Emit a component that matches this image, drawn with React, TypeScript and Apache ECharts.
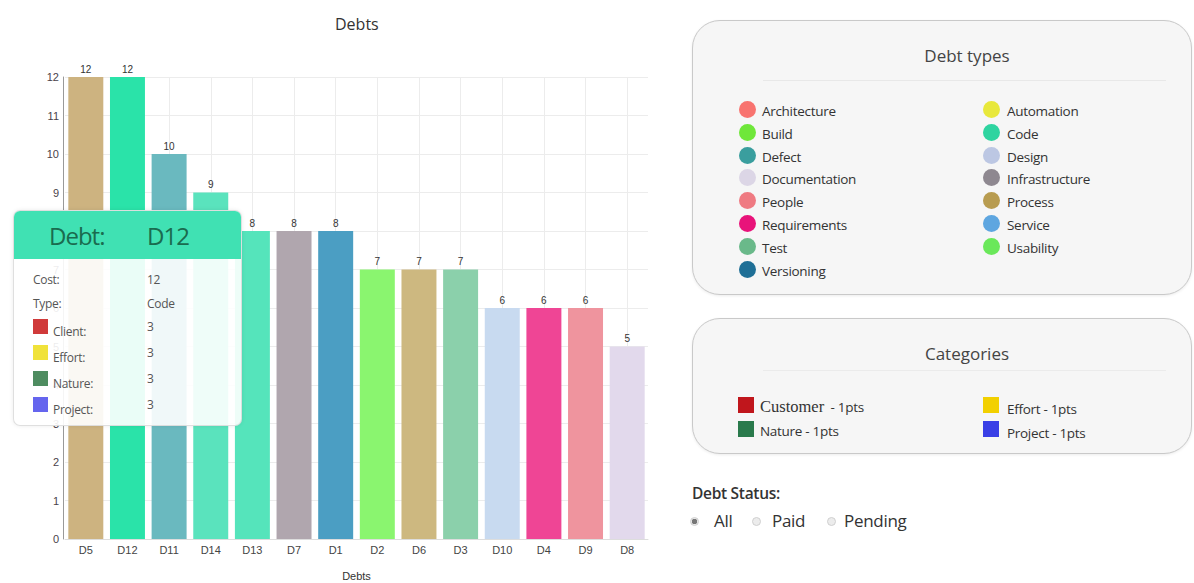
import React, { useEffect, useRef } from "react";
import * as echarts from "echarts";

// ---- data ----
const categories = ["D5", "D12", "D11", "D14", "D13", "D7", "D1", "D2", "D6", "D3", "D10", "D4", "D9", "D8"];
const costs = [12, 12, 10, 9, 8, 8, 8, 7, 7, 7, 6, 6, 6, 5];
const barColors = [
  "#cdb380", "#2ae3a9", "#6ab9bf", "#5ae3bd", "#55e4bb", "#b0a6ae", "#4b9ec3",
  "#8af56f", "#cdb880", "#8bd0ab", "#c8daf0", "#ef4595", "#ef949e", "#e2d9ec",
];

const debtTypesLeft = ["Architecture", "Build", "Defect", "Documentation", "People", "Requirements", "Test", "Versioning"];
const debtTypesLeftColors = ["#f8736f", "#6fe73a", "#3a9e9e", "#dcd6e6", "#ef7a82", "#e8137a", "#6ab98a", "#1f6f96"];
const debtTypesRight = ["Automation", "Code", "Design", "Infrastructure", "Process", "Service", "Usability"];
const debtTypesRightColors = ["#e8e83b", "#2ed4a0", "#bcc7e3", "#8e8890", "#b89c50", "#5ea6e0", "#6ae85a"];

const categoryNames = ["Customer", "Nature", "Effort", "Project"];
const categoryPoints = [1, 1, 1, 1];
const categoryColors = ["#c0161c", "#2a7a4c", "#f2d000", "#3a3fe6"];

const statusOptions = ["All", "Paid", "Pending"];
const statusSelected = "All";

const tipDebt = "D12";
const tipCost = 12;
const tipType = "Code";
const tipCatNames = ["Client", "Effort", "Nature", "Project"];
const tipCatValues = [3, 3, 3, 3];
const tipCatColors = ["#d03a3a", "#f0e23a", "#4e8c60", "#6565ee"];

function Chart() {
  const ref = useRef<HTMLDivElement>(null);
  useEffect(() => {
    if (!ref.current) return;
    const chart = echarts.init(ref.current, null, { renderer: "svg" });
    chart.setOption({
      animation: false,
      title: {
        text: "Debts",
        left: 330,
        top: 11,
        textStyle: { fontSize: 16, fontWeight: "normal", color: "#333", fontFamily: "Open Sans" },
      },
      grid: { left: 65, right: 22, top: 77, bottom: 44, outerBoundsMode: "none", containLabel: false },
      xAxis: {
        type: "category",
        data: categories,
        name: "Debts",
        nameLocation: "middle",
        nameGap: 31,
        nameTextStyle: { fontSize: 11, color: "#333", fontFamily: "Liberation Sans" },
        axisLine: { show: true, lineStyle: { color: "#ddd" } },
        axisTick: { show: false },
        axisLabel: { fontSize: 11, color: "#444", margin: 5, fontFamily: "Liberation Sans" },
        splitLine: { show: false },
      },
      yAxis: {
        type: "value",
        min: 0,
        max: 12,
        interval: 1,
        offset: 2,
        axisLine: { show: true, lineStyle: { color: "#999" } },
        axisTick: { show: false },
        axisLabel: { fontSize: 11, color: "#4a3f4a", margin: 4, fontFamily: "Liberation Sans" },
        splitLine: { show: true, lineStyle: { color: "#ececec" } },
      },
      series: [
        {
          type: "bar",
          data: costs.map((v, i) => ({ value: v, itemStyle: { color: barColors[i] } })),
          barCategoryGap: "16%",
          label: { show: true, position: "top", fontSize: 10, color: "#333", distance: 3, fontFamily: "Liberation Sans" },
          markLine: {
            z: 1,
            silent: true,
            symbol: "none",
            label: { show: false },
            lineStyle: { color: "#ececec", type: "solid", width: 1 },
            data: categories.map((c) => ({ xAxis: c })),
          },
        },
      ],
    });
    return () => chart.dispose();
  }, []);
  return <div ref={ref} style={{ position: "absolute", left: 0, top: 0, width: 670, height: 583 }} />;
}

function Tooltip() {
  const rowStyle: React.CSSProperties = { position: "absolute", fontSize: 12, color: "#555", letterSpacing: -0.3 };
  return (
    <div
      style={{
        position: "absolute",
        left: 13,
        top: 210,
        width: 229,
        height: 216,
        boxSizing: "border-box",
        background: "rgba(255,255,255,0.9)",
        border: "1px solid rgba(210,210,210,0.7)",
        borderRadius: 7,
        boxShadow: "0 0 4px rgba(0,0,0,0.08)",
        overflow: "hidden",
        fontFamily: "Open Sans",
      }}
    >
      <div style={{ position: "absolute", left: 0, top: 0, width: "100%", height: 48, background: "#40e1b3" }} />
      <div style={{ position: "absolute", left: 35, top: 8, fontSize: 24, color: "#1a6b4f", letterSpacing: -1 }}>Debt:</div>
      <div style={{ position: "absolute", left: 133, top: 8, fontSize: 24, color: "#1a6b4f", letterSpacing: -1 }}>{tipDebt}</div>
      <div style={{ ...rowStyle, left: 19, top: 60 }}>Cost:</div>
      <div style={{ ...rowStyle, left: 133, top: 60 }}>{tipCost}</div>
      <div style={{ ...rowStyle, left: 19, top: 84 }}>Type:</div>
      <div style={{ ...rowStyle, left: 133, top: 84 }}>{tipType}</div>
      {tipCatNames.map((n, i) => (
        <React.Fragment key={n}>
          <div style={{ position: "absolute", left: 19, top: 108 + i * 26, width: 15, height: 15, background: tipCatColors[i] }} />
          <div style={{ ...rowStyle, left: 39, top: 112 + i * 26 }}>{n}:</div>
          <div style={{ ...rowStyle, left: 133, top: 107 + i * 26 }}>{tipCatValues[i]}</div>
        </React.Fragment>
      ))}
    </div>
  );
}

function DebtTypesPanel() {
  const item = (name: string, color: string, i: number, col: number) => (
    <React.Fragment key={name}>
      <div
        style={{
          position: "absolute",
          left: col === 0 ? 46 : 290,
          top: 80 + i * 22.8,
          width: 17,
          height: 17,
          borderRadius: "50%",
          background: color,
        }}
      />
      <div
        style={{
          position: "absolute",
          left: col === 0 ? 69 : 314,
          top: 82 + i * 22.8,
          fontSize: 13.5,
          lineHeight: "16px",
          color: "#333",
          letterSpacing: -0.3,
        }}
      >
        {name}
      </div>
    </React.Fragment>
  );
  return (
    <div
      style={{
        position: "absolute",
        left: 692,
        top: 20,
        width: 500,
        height: 275,
        boxSizing: "border-box",
        border: "1px solid #c9c9c9",
        borderRadius: 28,
        background: "#f6f6f6",
        boxShadow: "0 1px 3px rgba(0,0,0,0.08)",
      }}
    >
      <div style={{ position: "absolute", left: 274, top: 34, transform: "translate(-50%,-50%)", fontSize: 17, color: "#444", whiteSpace: "nowrap" }}>
        Debt types
      </div>
      <div style={{ position: "absolute", left: 70, top: 59, width: 403, height: 1, background: "#e8e8e8" }} />
      {debtTypesLeft.map((n, i) => item(n, debtTypesLeftColors[i], i, 0))}
      {debtTypesRight.map((n, i) => item(n, debtTypesRightColors[i], i, 1))}
    </div>
  );
}

function CategoriesPanel() {
  return (
    <div
      style={{
        position: "absolute",
        left: 692,
        top: 318,
        width: 500,
        height: 136,
        boxSizing: "border-box",
        border: "1px solid #c9c9c9",
        borderRadius: 28,
        background: "#f6f6f6",
        boxShadow: "0 1px 3px rgba(0,0,0,0.08)",
      }}
    >
      <div style={{ position: "absolute", left: 274, top: 34, transform: "translate(-50%,-50%)", fontSize: 17, color: "#444", whiteSpace: "nowrap" }}>
        Categories
      </div>
      <div style={{ position: "absolute", left: 70, top: 51, width: 403, height: 1, background: "#ebebeb" }} />
      {categoryNames.map((n, i) => {
        const col = i < 2 ? 0 : 1;
        const row = i % 2;
        return (
          <React.Fragment key={n}>
            <div
              style={{
                position: "absolute",
                left: col === 0 ? 45 : 290,
                top: 78 + row * 24,
                width: 16,
                height: 16,
                background: categoryColors[i],
              }}
            />
            <div
              style={{
                position: "absolute",
                left: col === 0 ? 67 : 314,
                top: 80 + row * 24 + col * 2,
                fontSize: 13.5,
                lineHeight: "16px",
                color: "#333",
                letterSpacing: -0.3,
                whiteSpace: "pre",
              }}
            >
              {i === 0 ? (
                <>
                  <span style={{ fontFamily: "Liberation Serif", fontSize: 16.5, letterSpacing: 0 }}>{n}</span>
                  {"  - " + categoryPoints[i] + "pts"}
                </>
              ) : (
                n + " - " + categoryPoints[i] + "pts"
              )}
            </div>
          </React.Fragment>
        );
      })}
    </div>
  );
}

function StatusFilter() {
  const circleLefts = [690, 752, 827];
  const textLefts = [714, 772, 844];
  return (
    <>
      <div style={{ position: "absolute", left: 692, top: 482, fontSize: 15.5, fontWeight: 600, color: "#333", letterSpacing: -0.3 }}>
        Debt Status:
      </div>
      {statusOptions.map((s, i) => (
        <React.Fragment key={s}>
          <div
            style={{
              position: "absolute",
              left: circleLefts[i],
              top: 517,
              width: 9,
              height: 9,
              boxSizing: "border-box",
              borderRadius: "50%",
              border: "1px solid #d0d0d0",
              background: s === statusSelected ? "radial-gradient(circle, #777 0 2.5px, #e8e8e8 3px)" : "#ececec",
            }}
          />
          <div style={{ position: "absolute", left: textLefts[i], top: 509, fontSize: 17, color: "#333", letterSpacing: -0.3 }}>{s}</div>
        </React.Fragment>
      ))}
    </>
  );
}

export default function App() {
  return (
    <div
      style={{
        position: "absolute",
        left: 0,
        top: 0,
        width: 1194,
        height: 583,
        background: "#fff",
        fontFamily: "Open Sans",
        overflow: "hidden",
      }}
    >
      <Chart />
      <Tooltip />
      <DebtTypesPanel />
      <CategoriesPanel />
      <StatusFilter />
    </div>
  );
}
